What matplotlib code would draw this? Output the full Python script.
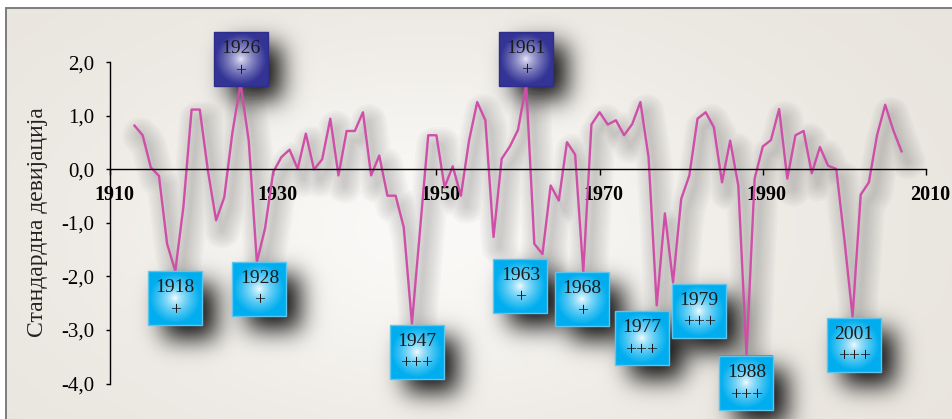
import math
import numpy as np
import matplotlib
matplotlib.use("Agg")
import matplotlib.pyplot as plt
from matplotlib import transforms
from matplotlib.patches import Rectangle

# standardized deviation per year
years = list(range(1913, 2008))
values = [0.82, 0.64, 0.04, -0.12, -1.39, -1.90, -0.69, 1.12, 1.12, -0.02,
          -0.95, -0.52, 0.69, 1.61, 0.54, -1.73, -1.10, -0.05, 0.23, 0.37,
          0.01, 0.67, 0.00, 0.19, 0.95, -0.11, 0.72, 0.72, 1.07, -0.11,
          0.26, -0.49, -0.49, -1.08, -2.88, -1.12, 0.64, 0.64, -0.33, 0.06,
          -0.49, 0.54, 1.26, 0.92, -1.26, 0.20, 0.43, 0.74, 1.59, -1.39,
          -1.58, -0.30, -0.58, 0.51, 0.28, -1.92, 0.84, 1.07, 0.84, 0.92,
          0.64, 0.85, 1.26, 0.23, -2.54, -0.82, -2.11, -0.55, -0.11, 0.95,
          1.07, 0.79, -0.24, 0.54, -0.30, -3.47, -0.17, 0.43, 0.55, 1.13,
          -0.17, 0.64, 0.72, -0.07, 0.42, 0.07, 0.01, -1.31, -2.75, -0.47,
          -0.24, 0.64, 1.21, 0.73, 0.34]

x_ticks = [1910, 1930, 1950, 1970, 1990, 2010]
y_ticks = [2, 1, 0, -1, -2, -3, -4]
y_tick_labels = ["2,0", "1,0", "0,0", "-1,0", "-2,0", "-3,0", "-4,0"]
y_title = "Стандардна девијација"

# marked extreme years
ann_years = [1918, 1926, 1928, 1947, 1961, 1963, 1968, 1977, 1979, 1988, 2001]
ann_marks = ["+", "+", "+", "+++", "+", "+", "+", "+++", "+++", "+++", "+++"]
# box shift from its point, pixels (dx, dy)
ann_shift = [(0, 0), (0, -3), (2.5, 0), (5, 1), (0, -1.5), (-22, 5), (-1, 0),
             (-15, 6), (26, 1.5), (0, 1), (1.5, 1)]

W, H, DPI = 952, 419, 100
BOX = 54
FONT = "Liberation Serif"

fig = plt.figure(figsize=(W / DPI, H / DPI), dpi=DPI)
ax = fig.add_axes([110 / W, 1 - 383.5 / H, 816 / W, 321 / H])
ax.set_xlim(1910, 2010)
ax.set_ylim(-4, 2)
ax.patch.set_alpha(0)

# box positions in pixels (image rows from top)
boxes = []
for yr, mark, (dx, dy) in zip(ann_years, ann_marks, ann_shift):
    v = values[years.index(yr)]
    px, py = ax.transData.transform((yr, v))
    row = H - py
    cx = px + dx
    if v > 0:
        top = row - dy - BOX
    else:
        top = row + dy
    boxes.append((yr, mark, v > 0, cx - BOX / 2, top))

# background: beige with lighter middle, frame, box shadows
xs = np.arange(W) + 0.5
ys = np.arange(H) + 0.5
XX, YY = np.meshgrid(xs, ys)
erf = np.vectorize(math.erf)

base = np.array([233, 229, 222]) / 255.0
light = np.array([250, 249, 247]) / 255.0
glow = np.exp(-(((XX - 430) / 330) ** 2 + ((YY - 230) / 190) ** 2))
img = base[None, None, :] * (1 - glow[..., None]) + light[None, None, :] * glow[..., None]


def soft_rect(x0, x1, y0, y1, s):
    k = s * math.sqrt(2)
    fx = 0.5 * (erf((xs - x0) / k) - erf((xs - x1) / k))
    fy = 0.5 * (erf((ys - y0) / k) - erf((ys - y1) / k))
    return fy[:, None] * fx[None, :]


shade = np.zeros((H, W))
for yr, mark, up, bx, by in boxes:
    shade += 0.95 * soft_rect(bx + 15, bx + BOX + 14, by + 13, by + BOX + 14, 12)
shade = np.clip(shade, 0, 0.9)
img = img * (1 - shade[..., None])

img[:9, :, :] = 1.0
img[:, :6, :] = 1.0
img[8:10, 5:, :] = 0.5
img[8:, 5:7, :] = 0.5

bg = fig.add_axes([0, 0, 1, 1], zorder=-1)
bg.imshow(img, extent=(0, W, H, 0), aspect="auto", interpolation="bilinear")
bg.set_xlim(0, W)
bg.set_ylim(H, 0)
bg.axis("off")

# line with a soft shadow
for i, lw in enumerate(np.linspace(3, 26, 8)):
    sh = transforms.offset_copy(ax.transData, fig=fig, x=6, y=-10, units="dots")
    ax.plot(years, values, color="#555555", lw=lw, alpha=0.035,
            solid_capstyle="round", solid_joinstyle="round", transform=sh, zorder=1)
ax.plot(years, values, color="#cf4fa8", lw=1.7, zorder=2)

# axes styling
for s in ["top", "right"]:
    ax.spines[s].set_visible(False)
ax.spines["bottom"].set_position(("data", 0))
ax.spines["bottom"].set_linewidth(1.0)
ax.spines["left"].set_linewidth(1.0)
ax.set_xticks(x_ticks)
ax.set_xticklabels([str(t) for t in x_ticks], fontfamily=FONT,
                   fontweight="bold", fontsize=14.5)
ax.set_yticks(y_ticks)
ax.set_yticklabels(y_tick_labels, fontfamily=FONT, fontsize=15)
ax.tick_params(axis="x", direction="out", length=4, width=1, pad=7)
ax.tick_params(axis="y", direction="out", length=3, width=1, pad=8)
nudge = transforms.ScaledTranslation(4 / DPI, 0, fig.dpi_scale_trans)
for lab in ax.get_xticklabels():
    lab.set_transform(lab.get_transform() + nudge)
fig.text(37.5 / W, 1 - 222 / H, y_title, rotation=90, ha="center",
         va="center", fontfamily=FONT, fontsize=17, color="#222222")

# marked boxes drawn on top
ov = fig.add_axes([0, 0, 1, 1], zorder=3)
ov.set_xlim(0, W)
ov.set_ylim(H, 0)
ov.axis("off")
t = np.linspace(-1, 1, 80)
gx, gy = np.meshgrid(t, t)
mix = np.clip(np.hypot(gx, gy) / 0.95, 0, 1) ** 0.7
for yr, mark, up, bx, by in boxes:
    if up:
        edge = np.array([52, 52, 150]) / 255.0
        mid = np.array([240, 240, 252]) / 255.0
        border = "#2e2e8a"
    else:
        edge = np.array([0, 174, 239]) / 255.0
        mid = np.array([255, 255, 255]) / 255.0
        border = "#5ec6ee"
    g = mid[None, None, :] * (1 - mix[..., None]) + edge[None, None, :] * mix[..., None]
    ov.imshow(g, extent=(bx, bx + BOX, by + BOX, by), aspect="auto",
              interpolation="bilinear")
    ov.add_patch(Rectangle((bx, by), BOX, BOX, fill=False, ec=border, lw=1.0))
    ov.text(bx + BOX / 2, by + 16.5, str(yr), ha="center", va="center",
            fontfamily=FONT, fontsize=14, color="#1a1a1a")
    ov.text(bx + BOX / 2, by + 39, mark, ha="center", va="center",
            fontfamily=FONT, fontsize=14, color="#1a1a1a")
ov.set_xlim(0, W)
ov.set_ylim(H, 0)

fig.savefig("out.png", dpi=DPI)
